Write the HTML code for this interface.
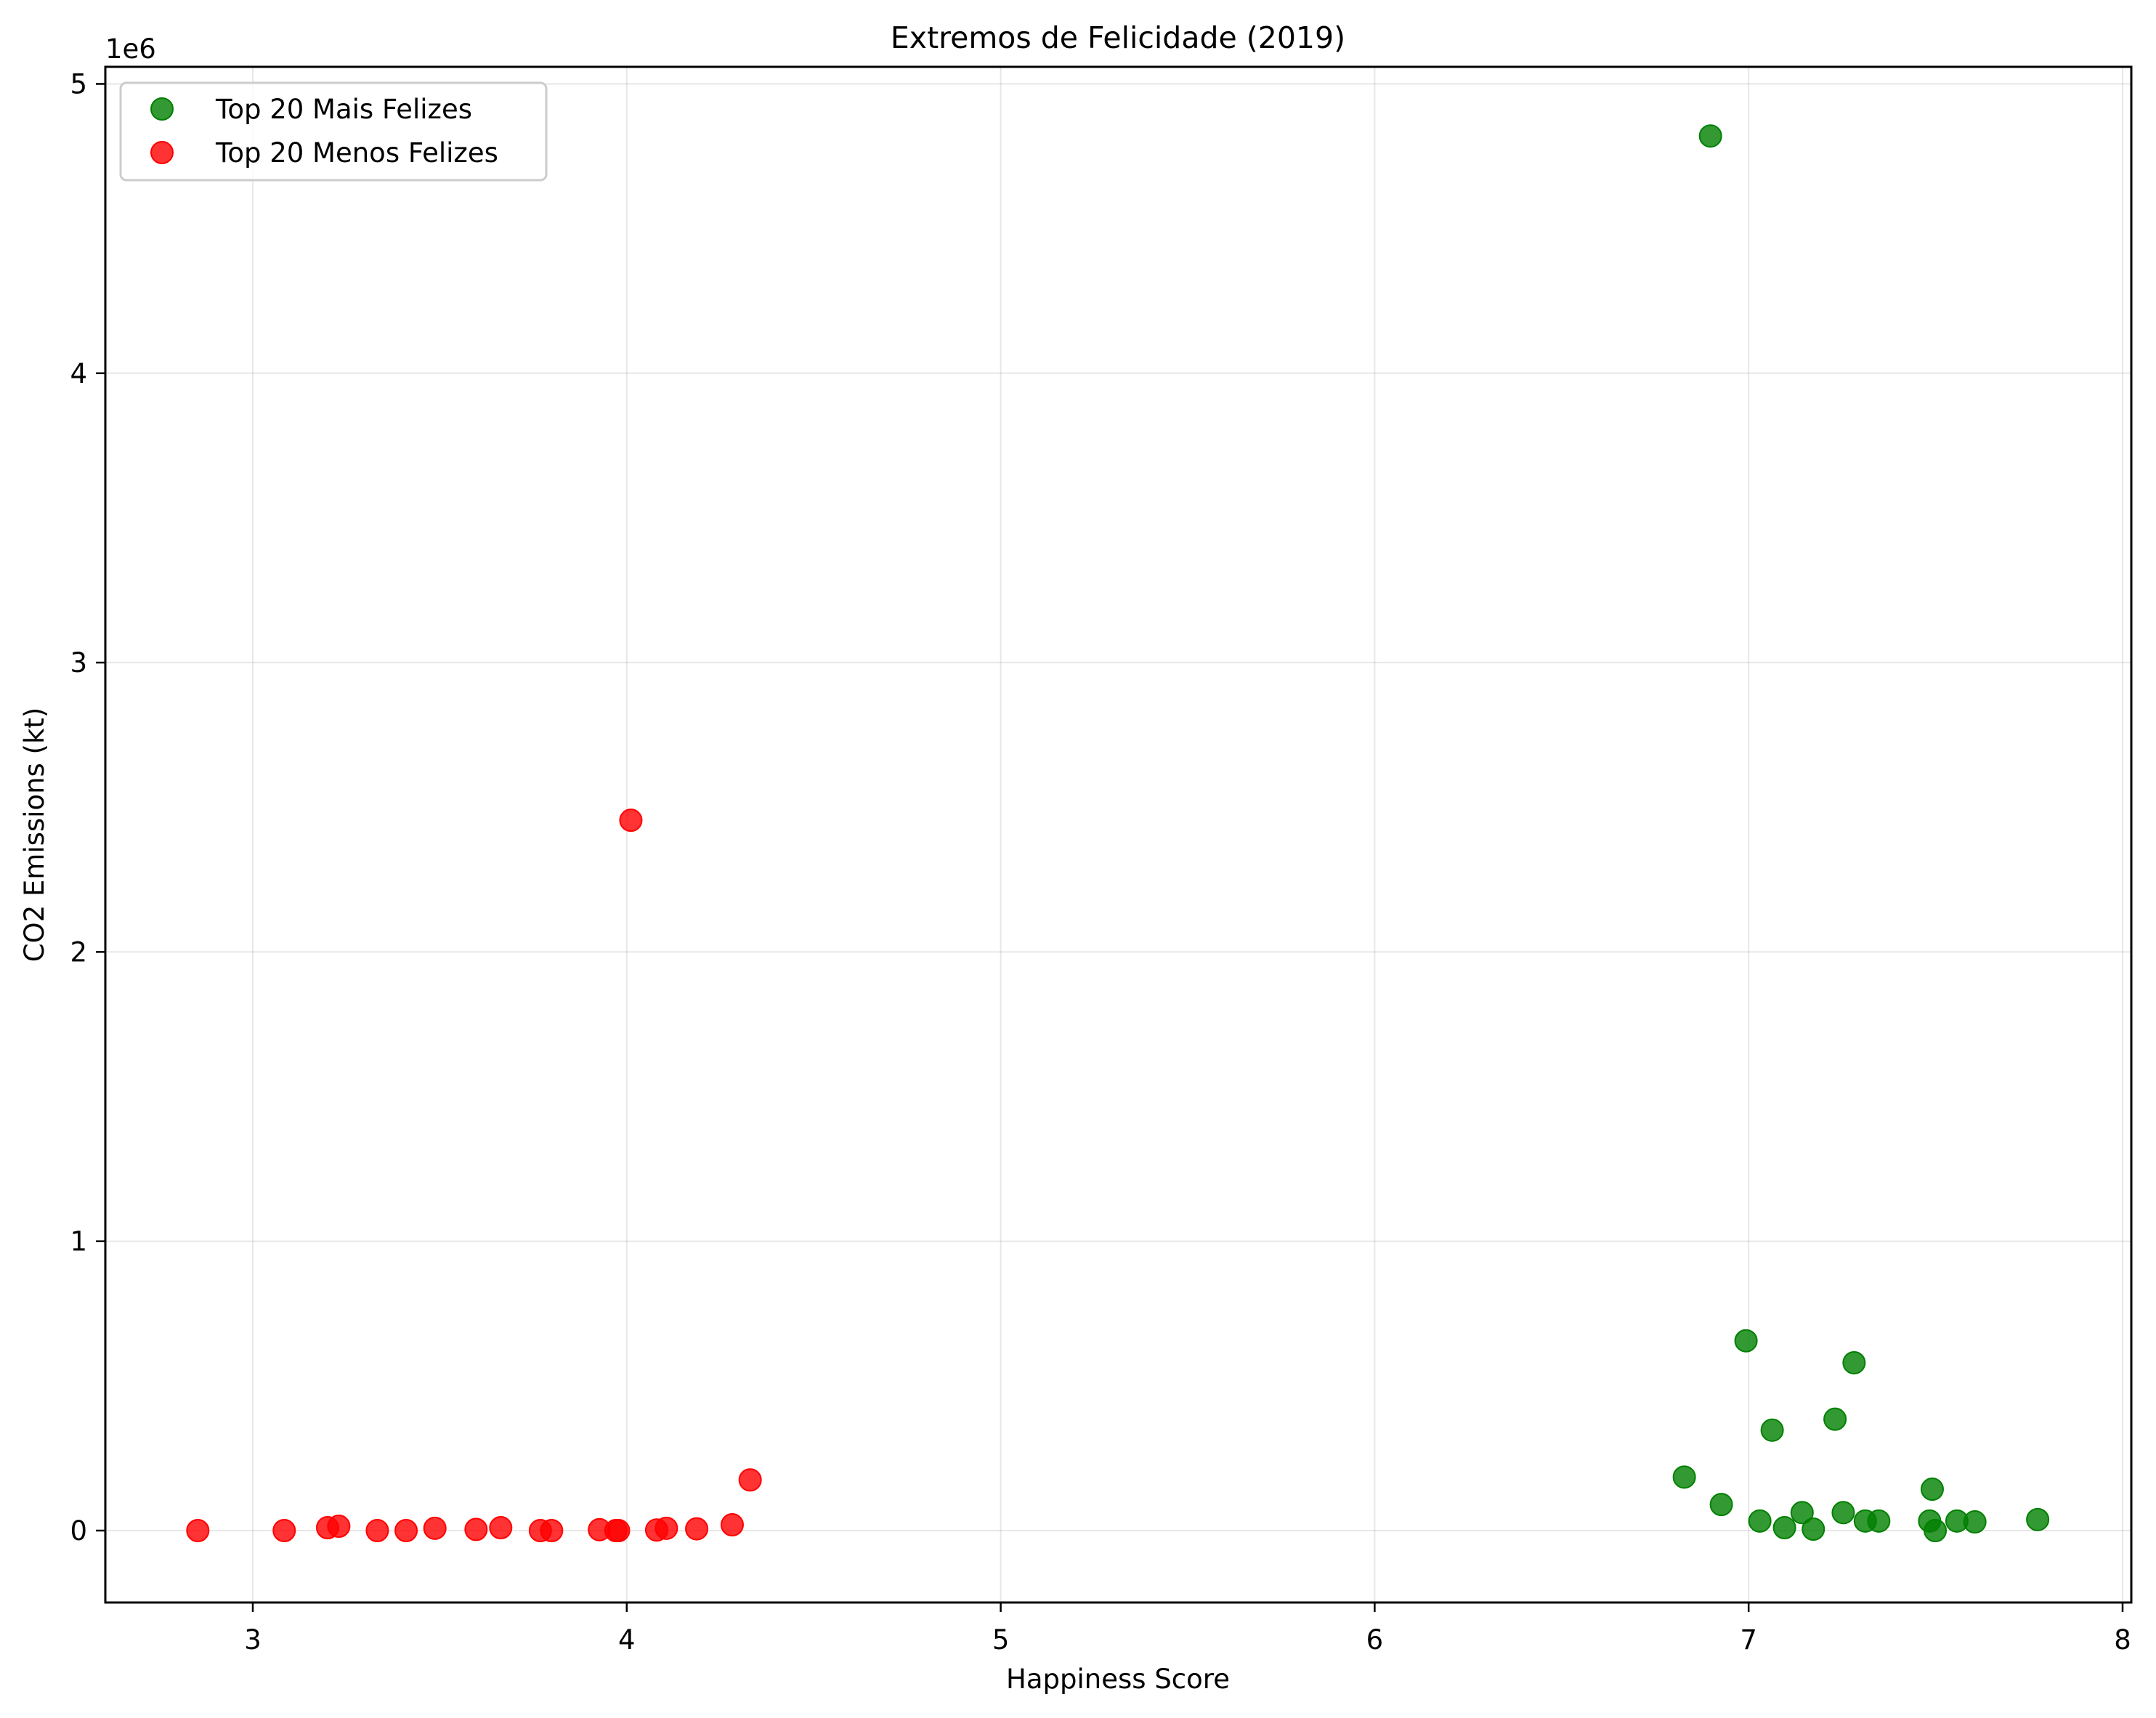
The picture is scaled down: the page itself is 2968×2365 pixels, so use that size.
<!DOCTYPE html>
<html><head><meta charset="utf-8"><style>
body{margin:0;background:#fff}
svg{display:block;font-family:"DejaVu Sans","Liberation Sans",sans-serif}
</style></head><body>
<svg id="c" width="2968" height="2365" viewBox="0 0 2968 2365">
<rect width="2968" height="2365" fill="#fff"/>
<g id="grid"></g>
<g id="pts"></g>
<rect x="145" y="92" width="2789" height="2114" fill="none" stroke="#000" stroke-width="3"/>
<g id="axes"></g>
<text x="1539" y="66" font-size="41" text-anchor="middle">Extremos de Felicidade (2019)</text>
<text x="1539" y="2324" font-size="37" text-anchor="middle">Happiness Score</text>
<text x="0" y="0" font-size="37" text-anchor="middle" transform="translate(60,1149) rotate(-90)">CO2 Emissions (kt)</text>
<text x="145" y="80" font-size="37">1e6</text>
<g>
<rect x="166" y="114" width="586" height="134" rx="8" fill="#fff" fill-opacity="0.8" stroke="#ccc" stroke-width="3"/>
<circle cx="223" cy="150" r="15" fill="green" fill-opacity="0.8" stroke="green" stroke-width="2"/>
<text x="297" y="163" font-size="37">Top 20 Mais Felizes</text>
<circle cx="223" cy="210" r="15" fill="red" fill-opacity="0.8" stroke="red" stroke-width="2"/>
<text x="297" y="223" font-size="37">Top 20 Menos Felizes</text>
</g>
</svg>
<script>
const xTicks=[3,4,5,6,7,8];
const yTicks=[0,1,2,3,4,5];
const happyX=[6.898,6.993,7.282,7.063,7.231,6.828,6.927,7.491,7.03,7.096,7.143,7.173,7.253,7.312,7.348,7.484,7.499,7.557,7.605,7.773];
const happyY=[4.82,0.656,0.58,0.347,0.385,0.185,0.09,0.143,0.033,0.01,0.062,0.005,0.062,0.033,0.033,0.033,0.0,0.033,0.03,0.038];
const sadX=[2.853,3.084,3.2,3.23,3.333,3.41,3.487,3.597,3.663,3.769,3.799,3.927,3.971,3.978,4.08,4.106,4.187,4.282,4.33,4.011];
const sadY=[0,0,0.01,0.015,0,0,0.008,0.004,0.01,0,0,0.003,0,0,0.002,0.008,0.006,0.02,0.175,2.455];
const NS='http://www.w3.org/2000/svg';
const xs=v=>348+(v-3)*514.8;
const ys=v=>2107-v*398.3;
const grid=document.getElementById('grid'),axes=document.getElementById('axes'),pts=document.getElementById('pts');
function mk(tag,at,parent){const e=document.createElementNS(NS,tag);for(const k in at)e.setAttribute(k,at[k]);parent.appendChild(e);return e;}
xTicks.forEach(t=>{
 const x=xs(t);
 const g=mk('line',{x1:x,x2:x,y1:92,y2:2206,stroke:'#b0b0b0','stroke-opacity':0.3,'stroke-width':2},grid);
 
 
 const tk=mk('line',{x1:x,x2:x,y1:2206,y2:2219,stroke:'#000','stroke-width':2.5},axes);
 
 
 const l=mk('text',{x:x,y:2270,'font-size':37,'text-anchor':'middle'},axes);
 l.textContent=t;
 
 
});
yTicks.forEach(t=>{
 const y=ys(t);
 const g=mk('line',{x1:145,x2:2934,y1:y,y2:y,stroke:'#b0b0b0','stroke-opacity':0.3,'stroke-width':2},grid);
 
 
 const tk=mk('line',{x1:132,x2:145,y1:y,y2:y,stroke:'#000','stroke-width':2.5},axes);
 
 
 const l=mk('text',{x:120,y:y+13,'font-size':37,'text-anchor':'end'},axes);
 l.textContent=t;
 
 
});
happyX.forEach((v,i)=>{
 const c=mk('circle',{cx:xs(v),cy:ys(happyY[i]),r:15,fill:'green','fill-opacity':0.8,stroke:'green','stroke-width':2},pts);
 
 
});
sadX.forEach((v,i)=>{
 const c=mk('circle',{cx:xs(v),cy:ys(sadY[i]),r:15,fill:'red','fill-opacity':0.8,stroke:'red','stroke-width':2},pts);
 
 
});
</script>
</body></html>
